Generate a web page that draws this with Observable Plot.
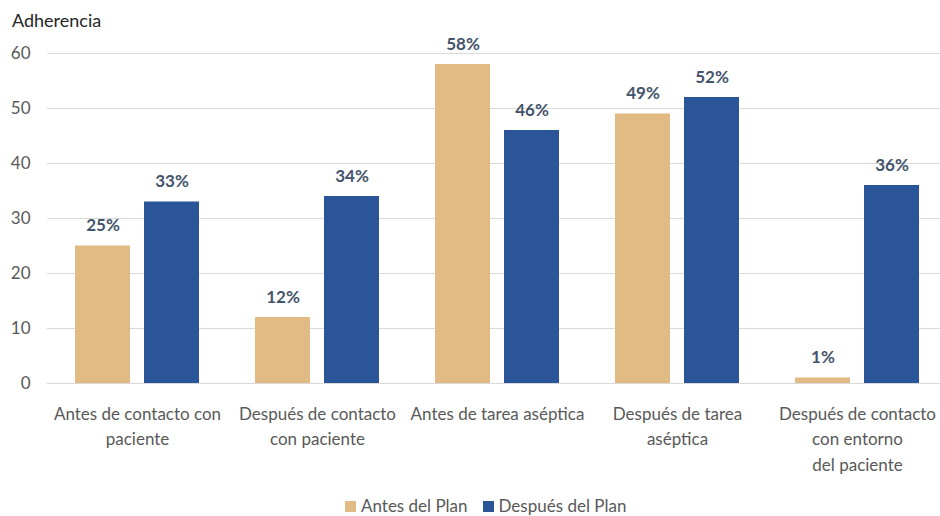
<!DOCTYPE html>
<html>
<head>
<meta charset="utf-8">
<script src="https://cdn.jsdelivr.net/npm/d3@7"></script>
<script src="https://cdn.jsdelivr.net/npm/@observablehq/plot@0.6"></script>
<style>
  html, body { margin: 0; padding: 0; background: #fff; overflow: hidden; }
  #wrap { position: relative; width: 940px; height: 516px; overflow: hidden; font-family: Lato, "Open Sans", sans-serif; }
  #title { position: absolute; left: 12px; top: 9px; font-size: 18px; color: #262626; }
  #legend { position: absolute; left: 345px; top: 497px; height: 18px; line-height: 18px; font-size: 17px; color: #595959; display: flex; align-items: center; white-space: nowrap; }
  #legend .sw { display: inline-block; width: 11px; height: 11px; margin-right: 5px; }
  #legend .item { display: inline-flex; align-items: center; margin-right: 15px; line-height: 18px; }
  #chart { position: absolute; left: 0; top: 0; }
  #chart svg { max-width: none !important; }
</style>
</head>
<body>
<div id="wrap">
  <div id="chart"></div>
  <div id="title">Adherencia</div>
  <div id="legend"></div>
</div>
<script>
const categories = [
  "Antes de contacto con paciente",
  "Después de contacto con paciente",
  "Antes de tarea aséptica",
  "Después de tarea aséptica",
  "Después de contacto con entorno del paciente"
];
const categoryLabels = [
  "Antes de contacto con\npaciente",
  "Después de contacto\ncon paciente",
  "Antes de tarea aséptica",
  "Después de tarea\naséptica",
  "Después de contacto\ncon entorno\ndel paciente"
];
const seriesNames = ["Antes del Plan", "Después del Plan"];
const antes = [25, 12, 58, 49, 1];
const despues = [33, 34, 46, 52, 36];
const seriesColors = ["#E2BA84", "#2A5599"];
const yTicks = [0, 10, 20, 30, 40, 50, 60];

const data = [];
categories.forEach((c, i) => {
  data.push({category: c, series: seriesNames[0], value: antes[i]});
  data.push({category: c, series: seriesNames[1], value: despues[i]});
});
const labelOf = new Map(categories.map((c, i) => [c, categoryLabels[i]]));

const chart = Plot.plot({
  width: 949,
  height: 490,
  marginTop: 53,
  marginBottom: 107,
  marginLeft: 45,
  marginRight: 0,
  style: {fontFamily: "Lato, 'Open Sans', sans-serif", background: "#fff"},
  fx: {domain: categories, padding: 0, label: null},
  x: {domain: seriesNames, paddingInner: 0.2, paddingOuter: 0.39, axis: null},
  y: {domain: [0, 60], axis: null},
  color: {domain: seriesNames, range: seriesColors},
  marks: [
    Plot.gridY(yTicks, {stroke: "#D9D9D9", strokeOpacity: 1, strokeWidth: 1}),
    Plot.axisY(yTicks, {
      anchor: "left", facetAnchor: "left", tickSize: 0, tickPadding: 17,
      fontSize: 17, fill: "#595959", label: null
    }),
    Plot.barY(data, {fx: "category", x: "series", y: "value", fill: "series"}),
    Plot.text(data, {
      fx: "category", x: "series", y: "value",
      text: d => d.value + "%", dy: -20,
      fontSize: 17, fontWeight: "bold", fill: "#44546A"
    }),
    Plot.axisFx({
      anchor: "bottom", tickSize: 0, tickPadding: 18,
      tickFormat: d => labelOf.get(d),
      fontSize: 17, fill: "#595959", lineHeight: 1.5,
      lineAnchor: "top", label: null
    })
  ]
});
document.getElementById("chart").appendChild(chart);

const legend = document.getElementById("legend");
seriesNames.forEach((s, i) => {
  const item = document.createElement("span");
  item.className = "item";
  const sw = document.createElement("span");
  sw.className = "sw";
  sw.style.background = seriesColors[i];
  item.appendChild(sw);
  item.appendChild(document.createTextNode(s));
  legend.appendChild(item);
});
</script>
</body>
</html>
